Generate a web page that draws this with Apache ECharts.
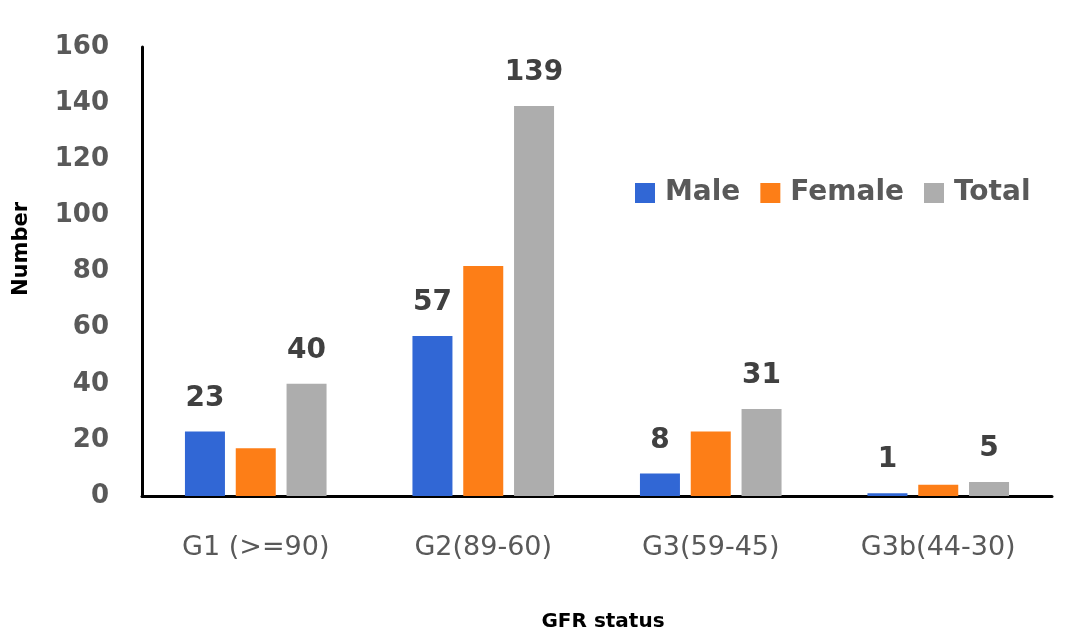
<!DOCTYPE html>
<html>
<head>
<meta charset="utf-8">
<script src="https://cdn.jsdelivr.net/npm/echarts@6/dist/echarts.min.js"></script>
<style>
html,body{margin:0;padding:0;background:#fff;}
#chart{width:1081px;height:635px;}
</style>
</head>
<body>
<div id="chart"></div>
<script>
const categories = ['G1 (>=90)', 'G2(89-60)', 'G3(59-45)', 'G3b(44-30)'];
const maleValues = [23, 57, 8, 1];
const femaleValues = [17, 82, 23, 4];
const totalValues = [40, 139, 31, 5];
const yTicks = { min: 0, max: 160, interval: 20 };

const chart = echarts.init(document.getElementById('chart'), null, { renderer: 'canvas' });
const F = 'DejaVu Sans';
const labelStyle = {
  show: true, position: 'top', distance: 19,
  fontFamily: F, fontWeight: 'bold', fontSize: 28, color: '#404040'
};
chart.setOption({
  animation: false,
  backgroundColor: '#ffffff',
  grid: { left: 142, right: 29, top: 47, bottom: 139, containLabel: false },
  legend: {
    left: 630, top: 174,
    itemWidth: 20, itemHeight: 20, itemGap: 20,
    icon: 'rect',
    textStyle: { fontFamily: F, fontWeight: 'bold', fontSize: 28, color: '#595959', padding: [0, 0, 0, 5] },
    data: ['Male', 'Female', 'Total']
  },
  xAxis: {
    type: 'category', data: categories,
    axisLine: { lineStyle: { color: '#000', width: 3 } },
    axisTick: { show: false },
    axisLabel: { fontFamily: F, fontSize: 27, color: '#595959', margin: 38 }
  },
  yAxis: {
    type: 'value', min: yTicks.min, max: yTicks.max, interval: yTicks.interval,
    axisLine: { show: true, lineStyle: { color: '#000', width: 3 } },
    axisTick: { show: false },
    splitLine: { show: false },
    axisLabel: { fontFamily: F, fontWeight: 'bold', fontSize: 26, color: '#595959', margin: 33 }
  },
  graphic: [
    { type: 'text', x: 603, y: 622, style: { text: 'GFR status', fontFamily: F, fontWeight: 'bold', fontSize: 20, fill: '#000', textAlign: 'center', textVerticalAlign: 'middle' } },
    { type: 'text', x: 22, y: 249, rotation: Math.PI / 2, style: { text: 'Number', fontFamily: F, fontWeight: 'bold', fontSize: 21, fill: '#000', textAlign: 'center', textVerticalAlign: 'middle' } }
  ],
  series: [
    { name: 'Male', type: 'bar', data: maleValues, barWidth: 40, barGap: '27%', itemStyle: { color: '#3167D5' }, label: labelStyle },
    { name: 'Female', type: 'bar', data: femaleValues, barWidth: 40, barGap: '27%', itemStyle: { color: '#FD7E17' } },
    { name: 'Total', type: 'bar', data: totalValues, barWidth: 40, barGap: '27%', itemStyle: { color: '#ADADAD' }, label: labelStyle }
  ]
});
</script>
</body>
</html>
